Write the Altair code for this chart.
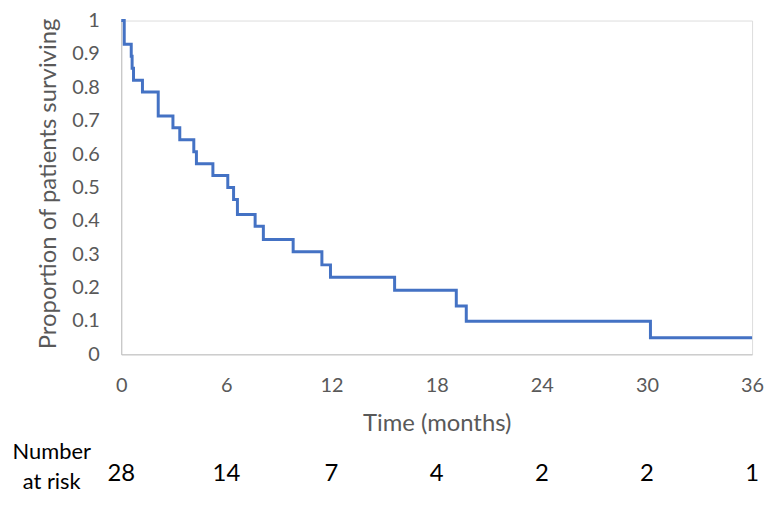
import altair as alt
import pandas as pd

# Kaplan-Meier curve
times = [0, 0.17, 0.57, 0.62, 0.70, 1.21, 2.11, 2.95, 3.34, 4.14, 4.29, 5.23, 6.08,
         6.41, 6.63, 7.64, 8.11, 9.81, 11.45, 11.94, 15.6, 19.12, 19.69, 30.2, 36]
survival = [1, 0.929, 0.893, 0.857, 0.821, 0.786, 0.714, 0.679, 0.643, 0.607, 0.571,
            0.536, 0.5, 0.464, 0.419, 0.384, 0.344, 0.307, 0.268, 0.231, 0.192, 0.145,
            0.099, 0.05, 0.05]

# Number at risk row
risk_times = [0, 6, 12, 18, 24, 30, 36]
risk_counts = [28, 14, 7, 4, 2, 2, 1]
x_ticks = [0, 6, 12, 18, 24, 30, 36]
y_ticks = [0, 0.1, 0.2, 0.3, 0.4, 0.5, 0.6, 0.7, 0.8, 0.9, 1]

km = pd.DataFrame({"t": times, "s": survival})
risk = pd.DataFrame({"t": risk_times, "n": [str(v) for v in risk_counts]})

FONT = "Lato"
GRAY = "#595959"

x_enc = alt.X(
    "t:Q",
    scale=alt.Scale(domain=[0, 36], nice=False),
    axis=alt.Axis(
        values=x_ticks, title="Time (months)", grid=False, ticks=False,
        domainColor="#BFBFBF", domainWidth=1, labelPadding=21, labelFlush=False,
        labelFontSize=20, labelColor=GRAY, labelFont=FONT,
        titleFontSize=24, titleFont=FONT, titleColor=GRAY, titleFontWeight="normal",
        titleY=77, titleBaseline="alphabetic",
    ),
)

line = alt.Chart(km).mark_line(
    interpolate="step-after", color="#4472C4", strokeWidth=3
).encode(
    x=x_enc,
    y=alt.Y(
        "s:Q",
        scale=alt.Scale(domain=[0, 1], nice=False),
        axis=alt.Axis(
            values=y_ticks, format=".1~f", title="Proportion of patients surviving",
            grid=False, ticks=False, domainColor="#BFBFBF", domainWidth=1,
            labelPadding=22, labelFlush=False, labelFontSize=20, labelColor=GRAY,
            labelFont=FONT,
            titleFontSize=24, titleFont=FONT, titleColor=GRAY, titleFontWeight="normal",
            titleX=-66, titleY=164, titleBaseline="alphabetic", titleAlign="center",
        ),
    ),
)

risk_text = alt.Chart(risk).mark_text(
    font=FONT, fontSize=24, color="black", align="center", baseline="alphabetic"
).encode(x=x_enc, y=alt.value(464), text="n:N")

label_style = dict(font=FONT, fontSize=22, color="black", align="center", baseline="alphabetic")
label_top = alt.Chart(risk).mark_text(text="Number", **label_style).encode(
    x=alt.value(-70), y=alt.value(441)
).transform_filter("datum.t == 0")
label_bottom = alt.Chart(risk).mark_text(text="at risk", **label_style).encode(
    x=alt.value(-70), y=alt.value(472)
).transform_filter("datum.t == 0")

chart = alt.layer(line, risk_text, label_top, label_bottom).properties(
    width=635, height=336,
    padding={"left": 114, "top": 11, "right": 12, "bottom": 143},
    autosize=alt.AutoSizeParams(type="none"),
).configure_view(stroke=None).configure(background="white")

chart.save("out.html", embed_options={"renderer": "svg", "actions": False})
